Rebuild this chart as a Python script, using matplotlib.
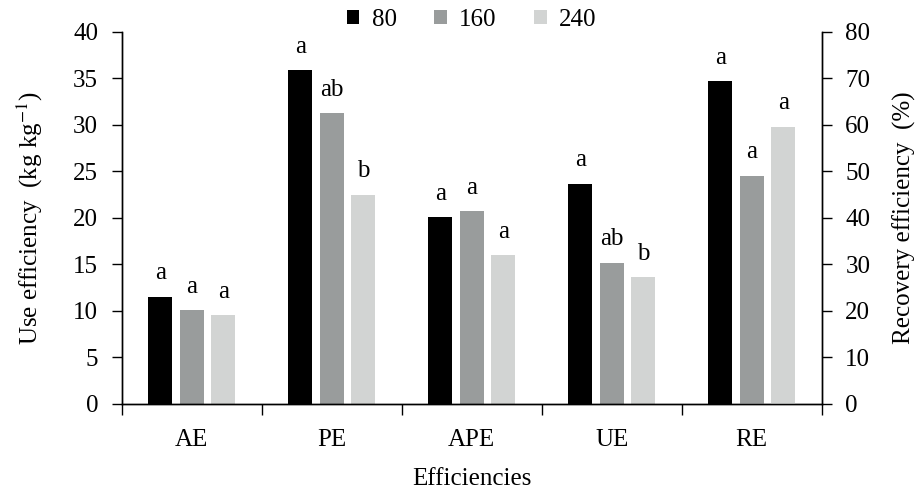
import numpy as np
import matplotlib.pyplot as plt

plt.rcParams['font.family'] = ['Liberation Serif', 'DejaVu Serif']
plt.rcParams['mathtext.fontset'] = 'stix'
plt.rcParams['font.size'] = 18

# data
categories = ['AE', 'PE', 'APE', 'UE', 'RE']
rates = ['80', '160', '240']
# use efficiencies (kg kg-1) for AE, PE, APE, UE
use_80 = [11.5, 35.9, 20.1, 23.7]
use_160 = [10.1, 31.25, 20.7, 15.2]
use_240 = [9.55, 22.5, 16.0, 13.6]
# recovery efficiency (%) for RE
re_vals = [69.4, 49.1, 59.6]
letters = [['a', 'a', 'a'], ['a', 'ab', 'b'], ['a', 'a', 'a'],
           ['a', 'ab', 'b'], ['a', 'a', 'a']]

colors = ['#000000', '#999c9c', '#d2d4d3']
width = 0.172
offsets = [-0.225, 0.0, 0.225]

fig = plt.figure(figsize=(9.16, 4.92), dpi=100)
ax = fig.add_axes([0.133, 0.179, 0.764, 0.756])
ax2 = ax.twinx()

use_series = [use_80, use_160, use_240]
x = np.arange(len(categories))
for i in range(3):
    ax.bar(x[:4] + offsets[i], use_series[i], width, color=colors[i], label=rates[i])
    ax2.bar(x[4] + offsets[i], re_vals[i], width, color=colors[i])

# significance letters
for j in range(4):
    for i in range(3):
        ax.annotate(letters[j][i], (x[j] + offsets[i], use_series[i][j]),
                    xytext=(0, 9), textcoords='offset points', ha='center', va='bottom')
for i in range(3):
    ax2.annotate(letters[4][i], (x[4] + offsets[i], re_vals[i]),
                 xytext=(0, 9), textcoords='offset points', ha='center', va='bottom')

ax.set_xlim(-0.5, 4.5)
ax.set_ylim(0, 40)
ax2.set_ylim(0, 80)
ax.set_yticks(np.arange(0, 41, 5))
ax2.set_yticks(np.arange(0, 81, 10))

ax.set_xticks(x)
ax.set_xticklabels(categories)
ax.set_xticks(np.arange(-0.5, 4.6, 1), minor=True)
ax.tick_params(axis='x', which='major', length=0, pad=18)
ax.tick_params(axis='x', which='minor', length=8, direction='out', width=1)
ax.tick_params(axis='y', length=7, direction='out', width=1, pad=10)
ax2.tick_params(axis='y', length=7, direction='out', width=1, pad=10)

for a in (ax, ax2):
    a.spines['top'].set_visible(False)
    for s in a.spines.values():
        s.set_linewidth(1)

ax.set_ylabel('Use efficiency  (kg kg$^{-1}$)', labelpad=20)
ax2.set_ylabel('Recovery efficiency  (%)', labelpad=16)
ax.set_xlabel('Efficiencies', labelpad=12)

ax.legend(loc='upper center', bbox_to_anchor=(0.5, 1.09), ncol=3, frameon=False,
          handlelength=0.5, handleheight=0.5, handletextpad=0.5, columnspacing=1.5,
          borderaxespad=0)

fig.savefig('out.png', dpi=100)
